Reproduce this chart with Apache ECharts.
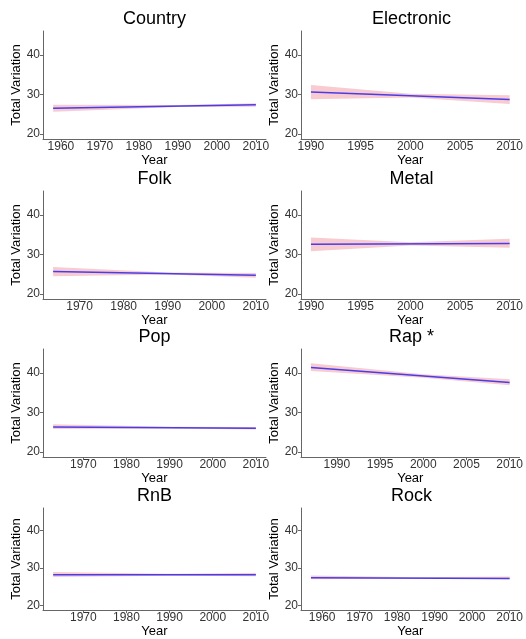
<!DOCTYPE html>
<html>
<head>
<meta charset="utf-8">
<script src="https://cdn.jsdelivr.net/npm/echarts@6/dist/echarts.min.js"></script>
<style>
    html, body { margin: 0; padding: 0; background: #fff; }
    #chart { width: 526px; height: 639px; }
</style>
</head>
<body>
<div id="chart"></div>
<script>
    // one panel per genre, fit line + confidence band
    const genres = ['Country', 'Electronic', 'Folk', 'Metal', 'Pop', 'Rap *', 'RnB', 'Rock'];
    const yearStart = [1958, 1990, 1964, 1990, 1963, 1987, 1963, 1957];
    const yearEnd = [2010, 2010, 2010, 2010, 2010, 2010, 2010, 2010];
    const yearMid = [1990, 2000, 1990, 2000, 1990, 2000, 1990, 1985];
    const fitStart = [26.5, 30.6, 25.7, 32.6, 26.3, 41.4, 28.2, 27.4];
    const fitEnd = [27.4, 28.7, 24.7, 32.8, 26.0, 37.6, 28.2, 27.2];
    // band bounds at [start, mid, end]
    const bandLow = [
        [25.6, 26.8, 26.9], [28.8, 29.2, 27.6], [24.5, 24.9, 24.1], [30.8, 32.3, 31.7],
        [25.8, 25.9, 25.65], [40.5, 38.8, 36.9], [27.6, 27.95, 27.8], [27.0, 27.15, 26.95]
    ];
    const bandHigh = [
        [27.4, 27.3, 27.8], [32.4, 30.2, 29.8], [26.8, 25.4, 25.3], [34.3, 33.1, 34.0],
        [27.0, 26.35, 26.3], [42.5, 39.7, 38.4], [28.9, 28.45, 28.65], [28.0, 27.5, 27.7]
    ];
    const xTicks = [
        [1960, 1970, 1980, 1990, 2000, 2010],
        [1990, 1995, 2000, 2005, 2010],
        [1970, 1980, 1990, 2000, 2010],
        [1990, 1995, 2000, 2005, 2010],
        [1970, 1980, 1990, 2000, 2010],
        [1990, 1995, 2000, 2005, 2010],
        [1970, 1980, 1990, 2000, 2010],
        [1960, 1970, 1980, 1990, 2000, 2010]
    ];
    const yTicks = [20, 30, 40];
    const yMin = 18.7;
    const yMax = 46.1;

    const colLeft = [43, 301];
    const colWidth = [223, 221];
    const rowTop = [31, 191, 349, 508];
    const plotHeight = 108;

    const axisColor = '#666';
    const labelColor = '#333';
    const font = 'Liberation Sans, Arial, sans-serif';

    let grid = [], xAxis = [], yAxis = [], series = [], title = [];

    genres.forEach(function (name, i) {
        let col = i % 2, row = Math.floor(i / 2);
        let pad = (yearEnd[i] - yearStart[i]) * 0.05;
        grid.push({ left: colLeft[col], top: rowTop[row], width: colWidth[col], height: plotHeight });
        title.push({
            text: name,
            left: colLeft[col] + colWidth[col] / 2,
            top: rowTop[row] - 21,
            textAlign: 'center',
            padding: 0,
            textStyle: { fontSize: 18, fontWeight: 'normal', color: '#000', fontFamily: font }
        });
        xAxis.push({
            gridIndex: i,
            type: 'value',
            min: yearStart[i] - pad,
            max: yearEnd[i] + pad,
            name: 'Year',
            nameLocation: 'middle',
            nameGap: 14,
            nameTextStyle: { fontSize: 13, color: '#000', fontFamily: font },
            splitLine: { show: false },
            axisLine: { lineStyle: { color: axisColor, width: 1 } },
            axisTick: { show: true, length: 3, customValues: xTicks[i], lineStyle: { color: axisColor } },
            axisLabel: {
                customValues: xTicks[i], margin: 2, fontSize: 12, color: labelColor, fontFamily: font,
                formatter: function (v) { return String(v); }
            }
        });
        yAxis.push({
            gridIndex: i,
            type: 'value',
            min: yMin,
            max: yMax,
            name: 'Total Variation',
            nameLocation: 'middle',
            nameGap: 18,
            nameTextStyle: { fontSize: 13, color: '#000', fontFamily: font },
            splitLine: { show: false },
            axisLine: { show: true, lineStyle: { color: axisColor, width: 1 } },
            axisTick: { show: true, length: 3, customValues: yTicks, lineStyle: { color: axisColor } },
            axisLabel: { customValues: yTicks, margin: 3, fontSize: 12, color: labelColor, fontFamily: font }
        });

        let xs = [yearStart[i], yearMid[i], yearEnd[i]];
        series.push({
            type: 'custom',
            xAxisIndex: i,
            yAxisIndex: i,
            silent: true,
            data: xs.map(function (x, k) { return [x, bandLow[i][k], bandHigh[i][k]]; }),
            renderItem: function (params, api) {
                if (params.dataIndex !== 0) return null;
                let top = [], bottom = [];
                for (let k = 0; k < xs.length; k++) {
                    top.push(api.coord([xs[k], bandHigh[i][k]]));
                    bottom.unshift(api.coord([xs[k], bandLow[i][k]]));
                }
                return {
                    type: 'polygon',
                    shape: { points: top.concat(bottom) },
                    style: { fill: '#f8cbd0' }
                };
            }
        });
        series.push({
            type: 'line',
            xAxisIndex: i,
            yAxisIndex: i,
            symbol: 'none',
            silent: true,
            lineStyle: { color: '#4a3ce6', width: 1.5 },
            data: [[yearStart[i], fitStart[i]], [yearEnd[i], fitEnd[i]]]
        });
    });

    let myChart = echarts.init(document.getElementById('chart'));
    myChart.setOption({
        animation: false,
        backgroundColor: '#fff',
        title: title,
        grid: grid,
        xAxis: xAxis,
        yAxis: yAxis,
        series: series
    });
</script>
</body>
</html>
